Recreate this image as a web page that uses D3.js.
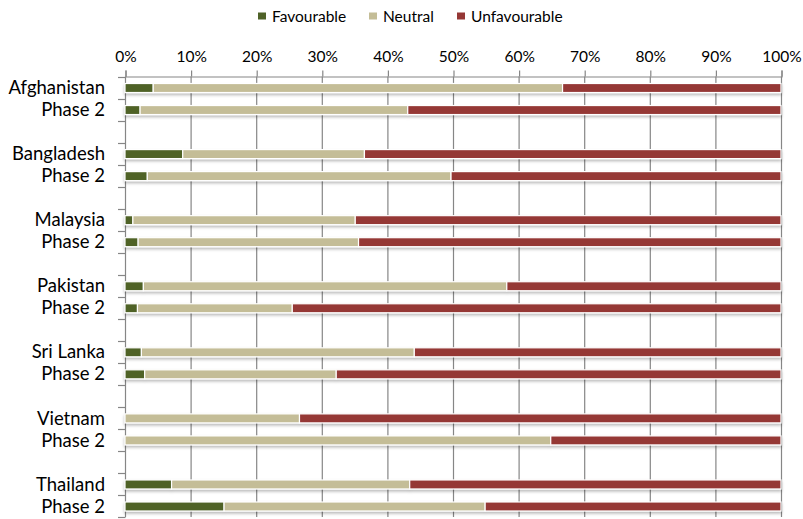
<!DOCTYPE html>
<html><head><meta charset="utf-8">
<script src="https://cdn.jsdelivr.net/npm/d3@7"></script>
<style>body{margin:0;background:#fff}svg{display:block}text{font-family:Lato,"Open Sans",sans-serif;fill:#000}</style>
</head><body><svg id="c" width="803" height="519"></svg>
<script>
// Categories (empty strings are spacer rows between country groups)
const categories = ["Afghanistan","Phase 2","","Bangladesh","Phase 2","","Malaysia","Phase 2","",
  "Pakistan","Phase 2","","Sri Lanka","Phase 2","","Vietnam","Phase 2","","Thailand","Phase 2"];
const seriesNames = ["Favourable","Neutral","Unfavourable"];
const favourable   = [4.3, 2.3, null, 8.8, 3.4, null, 1.2, 2.0, null, 2.8, 1.9, null, 2.5, 3.0, null, 0, 0, null, 7.1, 15.1];
const neutral      = [62.4, 40.8, null, 27.7, 46.3, null, 33.9, 33.6, null, 55.4, 23.6, null, 41.6, 29.2, null, 26.6, 64.9, null, 36.3, 39.8];
const unfavourable = [33.3, 56.9, null, 63.5, 50.3, null, 64.9, 64.4, null, 41.8, 74.5, null, 55.9, 67.8, null, 73.4, 35.1, null, 56.6, 45.1];
const xTicks = [0,10,20,30,40,50,60,70,80,90,100];
const colors = ["#4F6228","#C4BD97","#953735"];

const svg = d3.select("#c");
const x = d3.scaleLinear().domain([0,100]).range([125,781]);
const y = d3.scaleBand().domain(categories.map((d,i)=>i)).range([76.5,517]).paddingInner(0).paddingOuter(0);
const grid = "#868686";

const defs = svg.append("defs");
const f = defs.append("filter").attr("id","sh").attr("x","-5%").attr("y","-80%").attr("width","110%").attr("height","260%");
f.append("feDropShadow").attr("dx",0).attr("dy",2).attr("stdDeviation",1.6).attr("flood-color","#000").attr("flood-opacity",0.28);

// gridlines
svg.append("g").selectAll("line").data(xTicks.slice(1)).join("line")
  .attr("x1",d=>x(d)+0.5).attr("x2",d=>x(d)+0.5).attr("y1",76.5).attr("y2",517)
  .attr("stroke",grid).attr("stroke-width",1.2);

// top axis
const xAxis = d3.axisTop(x).tickValues(xTicks).tickFormat(d=>d+"%").tickSize(6).tickPadding(9);
const gx = svg.append("g").attr("transform","translate(0.5,76.5)").call(xAxis);
gx.select(".domain").attr("stroke",grid).attr("stroke-width",1.2);
gx.selectAll(".tick line").attr("stroke",grid).attr("stroke-width",1.2);
gx.selectAll(".tick text").attr("font-size",15.5).attr("font-family","Lato").attr("fill","#000");

// left axis line + ticks at band boundaries
const bounds = categories.map((d,i)=>y(i)).concat([y(categories.length-1)+y.bandwidth()]);
svg.append("line").attr("x1",125.5).attr("x2",125.5).attr("y1",76.5).attr("y2",517).attr("stroke",grid).attr("stroke-width",1.2);
svg.append("g").selectAll("line").data(bounds).join("line")
  .attr("x1",118).attr("x2",125.5).attr("y1",d=>Math.round(d)+0.5).attr("y2",d=>Math.round(d)+0.5)
  .attr("stroke",grid).attr("stroke-width",1.2);

// stacked bars
const rows = categories.map((c,i)=>({i, c, v:[favourable[i],neutral[i],unfavourable[i]]})).filter(r=>r.v[1]!==null);
const bh = 9;
const gb = svg.append("g").attr("filter","url(#sh)");
rows.forEach(r=>{
  let acc = 0;
  r.v.forEach((val,k)=>{
    if(val>0){
      gb.append("rect").attr("x",x(acc)).attr("width",x(acc+val)-x(acc))
        .attr("y",y(r.i)+y.bandwidth()/2-bh/2+0.5).attr("height",bh)
        .attr("fill",colors[k]).attr("stroke","#fff").attr("stroke-width",1.2);
    }
    acc += val;
  });
});

// category labels
svg.append("g").selectAll("text").data(categories.map((c,i)=>({c,i})).filter(d=>d.c)).join("text")
  .attr("x",105).attr("y",d=>y(d.i)+y.bandwidth()/2).attr("dy","0.36em")
  .attr("text-anchor","end").attr("font-size",18.5).text(d=>d.c);

// legend
const legX = [258,369,457];
const lg = svg.append("g");
seriesNames.forEach((s,k)=>{
  lg.append("rect").attr("x",legX[k]).attr("y",12.5).attr("width",8).attr("height",7).attr("fill",colors[k]);
  lg.append("text").attr("x",legX[k]+14).attr("y",16).attr("dy","0.36em").attr("font-size",15.5).text(s);
});
</script></body></html>
